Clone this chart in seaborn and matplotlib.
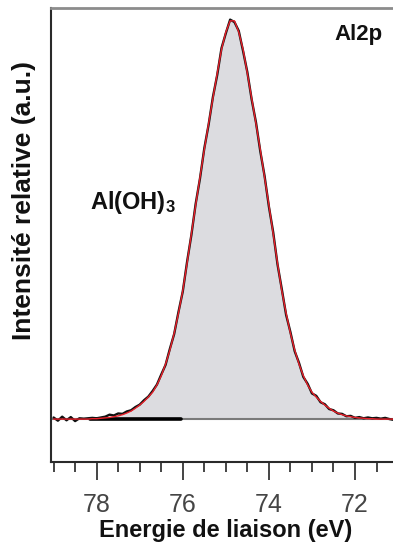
import numpy as np
import seaborn as sns
import matplotlib.pyplot as plt
from matplotlib.ticker import MultipleLocator, FixedLocator

# Binding energy grid (eV), 79.0 -> 71.1 in 0.1 eV steps
energy = [79.0, 78.9, 78.8, 78.7, 78.6, 78.5, 78.4, 78.3, 78.2, 78.1,
          78.0, 77.9, 77.8, 77.7, 77.6, 77.5, 77.4, 77.3, 77.2, 77.1,
          77.0, 76.9, 76.8, 76.7, 76.6, 76.5, 76.4, 76.3, 76.2, 76.1,
          76.0, 75.9, 75.8, 75.7, 75.6, 75.5, 75.4, 75.3, 75.2, 75.1,
          75.0, 74.9, 74.8, 74.7, 74.6, 74.5, 74.4, 74.3, 74.2, 74.1,
          74.0, 73.9, 73.8, 73.7, 73.6, 73.5, 73.4, 73.3, 73.2, 73.1,
          73.0, 72.9, 72.8, 72.7, 72.6, 72.5, 72.4, 72.3, 72.2, 72.1,
          72.0, 71.9, 71.8, 71.7, 71.6, 71.5, 71.4, 71.3, 71.2, 71.1]

# Fitted Al(OH)3 component (red), background subtracted
fit = [0.000, 0.000, 0.000, 0.000, 0.000, 0.000, 0.000, 0.000, 0.000, 0.001,
       0.001, 0.002, 0.003, 0.004, 0.006, 0.008, 0.011, 0.015, 0.020, 0.027,
       0.035, 0.044, 0.055, 0.067, 0.085, 0.108, 0.137, 0.172, 0.214, 0.264,
       0.320, 0.389, 0.462, 0.534, 0.603, 0.672, 0.737, 0.800, 0.862, 0.922,
       0.965, 0.993, 0.993, 0.965, 0.922, 0.862, 0.800, 0.737, 0.672, 0.603,
       0.534, 0.462, 0.389, 0.320, 0.264, 0.214, 0.172, 0.137, 0.108, 0.085,
       0.067, 0.055, 0.044, 0.035, 0.027, 0.020, 0.015, 0.011, 0.008, 0.006,
       0.004, 0.003, 0.002, 0.001, 0.001, 0.000, 0.000, 0.000, 0.000, 0.000]

# Measured spectrum (black)
data = [0.004, -0.004, 0.006, -0.003, 0.005, -0.005, 0.002, 0.001, 0.002, 0.003,
        0.002, 0.004, 0.006, 0.011, 0.009, 0.014, 0.013, 0.019, 0.022, 0.030,
        0.036, 0.047, 0.056, 0.070, 0.086, 0.111, 0.135, 0.175, 0.212, 0.267,
        0.318, 0.392, 0.459, 0.537, 0.600, 0.675, 0.734, 0.803, 0.858, 0.925,
        0.962, 0.996, 0.990, 0.968, 0.918, 0.865, 0.797, 0.740, 0.668, 0.606,
        0.530, 0.466, 0.386, 0.324, 0.260, 0.217, 0.169, 0.140, 0.105, 0.088,
        0.064, 0.058, 0.042, 0.037, 0.025, 0.022, 0.014, 0.013, 0.007, 0.008,
        0.003, 0.005, 0.002, 0.004, 0.002, 0.003, 0.001, 0.003, 0.000, -0.002]

sns.set_style("white")
plt.rcParams['font.family'] = ['Liberation Sans', 'DejaVu Sans']
plt.rcParams['mathtext.fontset'] = 'custom'
plt.rcParams['mathtext.bf'] = 'Liberation Sans:bold'
plt.rcParams['mathtext.rm'] = 'Liberation Sans'

fig = plt.figure(figsize=(3.93, 5.49), dpi=100)
ax = fig.add_axes([51 / 393, 87 / 549, 349 / 393, 454 / 549])

# grey area under the fitted component
ax.fill_between(energy, 0, fit, color='#dcdce0', lw=0, zorder=1)
# background line
ax.axhline(0, color='#7a7a7a', lw=1.5, zorder=2)
ax.plot([78.15, 76.05], [0, 0], color='black', lw=2.6, zorder=3)

sns.lineplot(x=energy, y=data, color='#111111', lw=1.7, ax=ax, zorder=4)
sns.lineplot(x=energy, y=fit, color='#e8202a', lw=1.0, ax=ax, zorder=5)

ax.set_xlim(79.06, 70.955)
ax.set_ylim(-0.107, 1.025)

ax.xaxis.set_major_locator(FixedLocator([78, 76, 74, 72]))
ax.xaxis.set_minor_locator(MultipleLocator(0.5))
ax.tick_params(axis='x', which='both', bottom=True)
ax.tick_params(axis='x', which='major', direction='out', length=13, width=1.4,
               color='#444444', labelsize=18, labelcolor='#454545', pad=9.5)
ax.tick_params(axis='x', which='minor', direction='out', length=7, width=1.4,
               color='#444444')
ax.set_yticks([])

for side in ['left', 'bottom']:
    ax.spines[side].set_color('#2a2a2a')
    ax.spines[side].set_linewidth(1.5)
ax.spines['top'].set_color('#8c8c8c')
ax.spines['top'].set_linewidth(2.0)
ax.spines['right'].set_visible(False)

ax.set_xlabel('Energie de liaison (eV)', fontsize=17, fontweight='bold',
              labelpad=1, color='#111111')
fig.text(24 / 393, 1 - 200 / 549, 'Intensité relative (a.u.)', rotation=90,
         ha='center', va='center', fontsize=19, fontweight='bold', color='#111111')

ax.text(77.16, 0.539, r'$\mathbf{Al(OH)_3}$', ha='center', va='center',
        fontsize=17, color='#111111')
ax.text(71.93, 0.958, 'Al2p', ha='center', va='center', fontsize=16,
        fontweight='bold', color='#111111')

plt.savefig('out.png', dpi=100)
